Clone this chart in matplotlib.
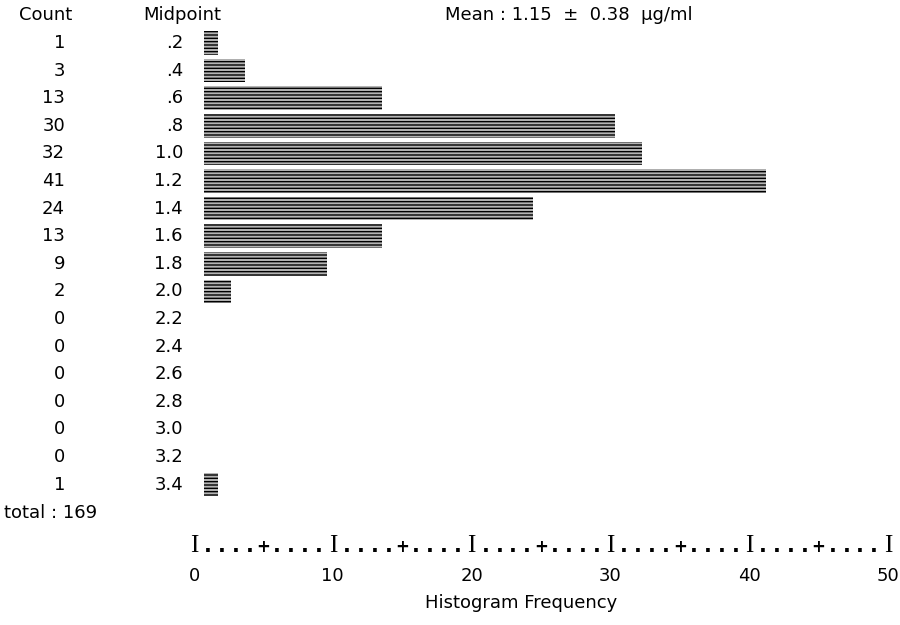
import numpy as np
import matplotlib
matplotlib.use("Agg")
from matplotlib import pyplot as plt

plt.rcParams['font.family'] = ['DejaVu Sans']
plt.rcParams['hatch.linewidth'] = 1.0

counts = [1, 3, 13, 30, 32, 41, 24, 13, 9, 2, 0, 0, 0, 0, 0, 0, 1]
midpoints = [".2", ".4", ".6", ".8", "1.0", "1.2", "1.4", "1.6", "1.8", "2.0",
             "2.2", "2.4", "2.6", "2.8", "3.0", "3.2", "3.4"]
freq_ticks = [0, 10, 20, 30, 40, 50]
mean_text = "Mean : 1.15  \u00b1  0.38  \u03bcg/ml"
total_text = "total : 169"
xlabel = "Histogram Frequency"

W, H = 900, 625
fig = plt.figure(figsize=(W / 100, H / 100), dpi=100)

# page axes in pixel units for the text columns
page = fig.add_axes([0, 0, 1, 1])
page.set_xlim(0, W)
page.set_ylim(H, 0)
page.axis("off")

# bar area: rows -0.5 .. 16.5 span pixels 29..498
top_px, bot_px = 29.2, 498.4
ax = fig.add_axes([204 / W, 1 - bot_px / H, (889 - 204) / W, (bot_px - top_px) / H])
rows = np.arange(len(counts))
ax.barh(rows, counts, height=0.85, left=0, facecolor="#b4b4b4",
        edgecolor="black", linewidth=0, hatch="-----")
ax.set_xlim(0, 50)
ax.set_ylim(len(counts) - 0.5, -0.5)
ax.axis("off")

row_px = top_px + (rows + 0.5) * (bot_px - top_px) / len(counts)
fs = 13
page.text(46, 15, "Count", ha="center", va="center", fontsize=fs)
page.text(143, 15, "Midpoint", ha="left", va="center", fontsize=fs)
page.text(445, 15, mean_text, ha="left", va="center", fontsize=fs)
for y, c, m in zip(row_px, counts, midpoints):
    page.text(65, y, str(c), ha="right", va="center", fontsize=fs)
    page.text(183, y, m, ha="right", va="center", fontsize=fs)
page.text(4, 513, total_text, ha="left", va="center", fontsize=fs)

# frequency ruler drawn as typed characters
rax = fig.add_axes([194 / W, 1 - 560 / H, (888 - 194) / W, 26 / H])
rax.set_xlim(0, 50)
rax.set_ylim(0, 1)
rax.axis("off")
for k in range(51):
    if k % 10 == 0:
        rax.text(k, 0.3, "I", ha="center", va="baseline", fontsize=18,
                 family="Liberation Serif")
    elif k % 5 == 0:
        rax.text(k, 0.3, "+", ha="center", va="baseline", fontsize=12,
                 fontweight="bold")
    else:
        rax.text(k, 0.3, ".", ha="center", va="baseline", fontsize=15,
                 fontweight="bold")
for t in freq_ticks:
    rax.text(t, -0.6, str(t), ha="center", va="center", fontsize=fs)
page.text(521, 603, xlabel, ha="center", va="center", fontsize=fs)

fig.savefig("out.png", dpi=100)
